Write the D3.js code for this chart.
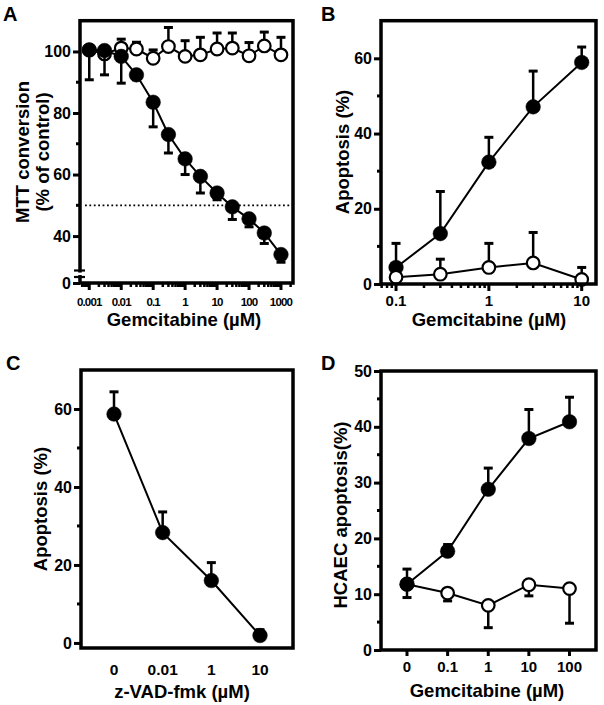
<!DOCTYPE html>
<html><head><meta charset="utf-8">
<script src="https://cdn.jsdelivr.net/npm/d3@7"></script>
<style>
body{margin:0;background:#fff}
svg{display:block}
text{font-family:"Liberation Sans",Arial,sans-serif;font-weight:bold;fill:#000}
</style>
</head><body>
<svg id="chart" width="604" height="705"></svg>
<script>
// ---------- DATA ----------
// Panel A
const aDose = [0.001,0.003,0.01,0.03,0.1,0.3,1,3,10,30,100,300,1000];
const aFilled = [100.5,100.3,98.4,92.4,83.5,73.0,65.1,59.4,54.0,49.5,45.6,41.0,34.0];
const aFilledErr = [9.7,7.9,8.7,1.6,8.0,6.0,5.1,5.4,2.2,4.1,2.6,3.4,2.5];
const aOpen = [100.5,99.2,101.1,100.8,97.8,101.6,98.4,98.9,100.8,101.1,98.6,101.8,98.9];
const aOpenErr = [0,0,2.9,2.2,2.7,6.2,5.1,5.7,5.2,4.9,4.3,4.5,5.7];
const aYTicks = [0,40,60,80,100];
const aYMinor = [50,70,90];
const aXTicks = [0.001,0.01,0.1,1,10,100,1000];
const aXLabels = ["0.001","0.01","0.1","1","10","100","1000"];
const aThreshold = 50;
// Panel B
const bDose = [0.1,0.3,1,3,10];
const bFilled = [4.4,13.4,32.4,47.1,58.9];
const bFilledErr = [6.4,11.2,6.6,9.5,4.1];
const bOpen = [1.8,2.6,4.4,5.6,1.2];
const bOpenErr = [0,4.0,6.4,8.1,3.2];
const bYTicks = [0,20,40,60];
const bYMinor = [10,30,50];
const bXTicks = [0.1,1,10];
const bXLabels = ["0.1","1","10"];
// Panel C
const cLabels = ["0","0.01","1","10"];
const cValues = [58.7,28.3,16.0,1.9];
const cErr = [5.7,5.3,4.6,1.5];
const cYTicks = [0,20,40,60];
const cYMinor = [10,30,50];
// Panel D
const dLabels = ["0","0.1","1","10","100"];
const dFilled = [11.8,17.7,28.8,37.9,40.9];
const dFilledErr = [2.7,1.2,3.8,5.2,4.4];
const dOpen = [11.8,10.2,8.0,11.7,11.0];
const dOpenErr = [2.4,1.4,4.0,2.0,6.2];
const dYTicks = [0,10,20,30,40,50];
const dYMinor = [5,15,25,35,45];

// ---------- DRAWING ----------
const svg = d3.select("#chart");
const FRAME_W = 3.5, LINE_W = 2, R = 7.3;
const TICK_FS = 16, TITLE_FS = 18.5;

function frame(x0,x1,y0,y1){
  svg.append("rect").attr("x",x0).attr("y",y0).attr("width",x1-x0).attr("height",y1-y0)
    .attr("fill","none").attr("stroke","#000").attr("stroke-width",FRAME_W);
}
function yAxis(y, x0, ticks, minor, fs){
  const g = svg.append("g").attr("transform",`translate(${x0},0)`);
  const ax = d3.axisLeft(y).tickValues(ticks).tickSize(7).tickPadding(2).tickFormat(d3.format("d"));
  g.call(ax);
  g.select(".domain").remove();
  g.selectAll(".tick line").attr("stroke","#000").attr("stroke-width",3);
  g.selectAll(".tick text").style("font-size",fs+"px").style("font-family",'"Liberation Sans",Arial,sans-serif').style("font-weight","bold").attr("fill","#000");
  svg.append("g").selectAll("line").data(minor).join("line")
    .attr("x1",x0-4).attr("x2",x0).attr("y1",d=>y(d)).attr("y2",d=>y(d))
    .attr("stroke","#000").attr("stroke-width",3);
}
function xAxisLog(x, y0, ticks, labels, fs, labelY, ls){
  const [lo,hi] = x.domain();
  const minors = [];
  for(let e=Math.floor(Math.log10(lo)); e<=Math.ceil(Math.log10(hi)); e++){
    for(let m=2;m<=9;m++){ const v=m*Math.pow(10,e); if(v>=lo && v<=hi) minors.push(v); }
  }
  svg.append("g").selectAll("line").data(minors).join("line")
    .attr("x1",d=>x(d)).attr("x2",d=>x(d)).attr("y1",y0).attr("y2",y0+4)
    .attr("stroke","#000").attr("stroke-width",2.5);
  svg.append("g").selectAll("line").data(ticks).join("line")
    .attr("x1",d=>x(d)).attr("x2",d=>x(d)).attr("y1",y0).attr("y2",y0+7)
    .attr("stroke","#000").attr("stroke-width",3);
  svg.append("g").selectAll("text").data(ticks).join("text")
    .attr("x",d=>x(d)).attr("y",labelY).attr("text-anchor","middle")
    .style("font-size",fs+"px").style("letter-spacing",(ls||0)+"px").text((d,i)=>labels[i]);
}
function xAxisCat(x, y0, labels, fs, labelY, showTicks){
  if(showTicks){
    svg.append("g").selectAll("line").data(labels).join("line")
      .attr("x1",d=>x(d)).attr("x2",d=>x(d)).attr("y1",y0).attr("y2",y0+6)
      .attr("stroke","#000").attr("stroke-width",3);
  }
  svg.append("g").selectAll("text").data(labels).join("text")
    .attr("x",d=>x(d)).attr("y",labelY).attr("text-anchor","middle")
    .style("font-size",fs+"px").text(d=>d);
}
function series(xs, vals, errs, x, y, filled, dir){
  const pts = xs.map((d,i)=>({x:x(d), v:vals[i], e:errs[i]}));
  const g = svg.append("g");
  pts.forEach(p=>{
    if(!p.e) return;
    const yc = y(p.v), ye = y(p.v + dir*p.e);
    g.append("line").attr("x1",p.x).attr("x2",p.x).attr("y1",yc).attr("y2",ye)
      .attr("stroke","#000").attr("stroke-width",2.5);
    g.append("line").attr("x1",p.x-4.5).attr("x2",p.x+4.5).attr("y1",ye).attr("y2",ye)
      .attr("stroke","#000").attr("stroke-width",3);
  });
  g.append("path").datum(pts)
    .attr("d",d3.line().x(p=>p.x).y(p=>y(p.v)))
    .attr("fill","none").attr("stroke","#000").attr("stroke-width",LINE_W);
  g.selectAll("circle").data(pts).join("circle")
    .attr("cx",p=>p.x).attr("cy",p=>y(p.v))
    .attr("r", filled ? R : R-1)
    .attr("fill", filled ? "#000" : "#fff")
    .attr("stroke","#000").attr("stroke-width", filled ? 0.5 : 2.2);
}
function label(t,x,yb){ svg.append("text").attr("x",x).attr("y",yb).style("font-size","20px").text(t); }
function xTitle(t,cx,yb){ svg.append("text").attr("x",cx).attr("y",yb).attr("text-anchor","middle").style("font-size",TITLE_FS+"px").text(t); }
function yTitle(t,cx,cy,fs){
  svg.append("text").attr("transform",`translate(${cx},${cy}) rotate(-90)`)
    .attr("text-anchor","middle").attr("dominant-baseline","central")
    .style("font-size",(fs||TITLE_FS)+"px").text(t);
}

// ----- Panel A -----
{
  const L=80, Rt=293, T=20.7, B=283;
  const x = d3.scaleLog().domain([Math.pow(10,-3.29), Math.pow(10,3.376)]).range([L,Rt]);
  const y = d3.scaleLinear().domain([0,2,28,110]).range([B,278,273,T]);
  svg.append("line").attr("x1",85).attr("x2",Rt).attr("y1",y(aThreshold)).attr("y2",y(aThreshold))
    .attr("stroke","#000").attr("stroke-width",1.8).attr("stroke-dasharray","1.8,2.6");
  series(aDose, aOpen, aOpenErr, x, y, false, 1);
  series(aDose, aFilled, aFilledErr, x, y, true, -1);
  frame(L,Rt,T,B);
  yAxis(y, L, aYTicks, aYMinor, TICK_FS);
  svg.append("line").attr("x1",L-6).attr("x2",L+5).attr("y1",270.5).attr("y2",270.5).attr("stroke","#000").attr("stroke-width",2.2);
  svg.append("line").attr("x1",L-6).attr("x2",L+5).attr("y1",277).attr("y2",277).attr("stroke","#000").attr("stroke-width",2.2);
  svg.append("line").attr("x1",L-5).attr("x2",L+4).attr("y1",273.8).attr("y2",273.8).attr("stroke","#fff").attr("stroke-width",2.5);
  xAxisLog(x, B, aXTicks, aXLabels, 11.5, 306, -0.8);
  xTitle("Gemcitabine (µM)", 184, 326);
  yTitle("MTT conversion", 22, 152);
  yTitle("(% of control)", 42, 152);
  label("A", 3, 21);
}
// ----- Panel B -----
{
  const L=381, Rt=596, T=20.7, B=284;
  const x = d3.scaleLog().domain([Math.pow(10,-1.162), Math.pow(10,1.154)]).range([L,Rt]);
  const y = d3.scaleLinear().domain([0,70]).range([B,T]);
  series(bDose, bFilled, bFilledErr, x, y, true, 1);
  series(bDose, bOpen, bOpenErr, x, y, false, 1);
  frame(L,Rt,T,B);
  yAxis(y, L, bYTicks, bYMinor, TICK_FS);
  xAxisLog(x, B, bXTicks, bXLabels, 15, 306);
  xTitle("Gemcitabine (µM)", 489, 326);
  yTitle("Apoptosis (%)", 342, 152);
  label("B", 321, 21);
}
// ----- Panel C -----
{
  const L=81, Rt=293, T=370, B=648;
  const x = d3.scalePoint().domain(cLabels).range([114,260]);
  const y = d3.scaleLinear().domain([-1.3,70]).range([B,T]);
  series(cLabels, cValues, cErr, x, y, true, 1);
  frame(L,Rt,T,B);
  yAxis(y, L, cYTicks, cYMinor, TICK_FS);
  xAxisCat(x, B, cLabels, 15.5, 675, false);
  xTitle("z-VAD-fmk (µM)", 182, 698);
  yTitle("Apoptosis (%)", 40, 509);
  label("C", 6, 370);
}
// ----- Panel D -----
{
  const L=381, Rt=596, T=371, B=650;
  const x = d3.scalePoint().domain(dLabels).range([407,569.5]);
  const y = d3.scaleLinear().domain([0,50]).range([B,T]);
  series(dLabels, dOpen, dOpenErr, x, y, false, -1);
  series(dLabels, dFilled, dFilledErr, x, y, true, 1);
  frame(L,Rt,T,B);
  yAxis(y, L, dYTicks, dYMinor, TICK_FS);
  xAxisCat(x, B, dLabels, 15, 672, true);
  xTitle("Gemcitabine (µM)", 487, 697);
  yTitle("HCAEC apoptosis(%)", 340, 515);
  label("D", 321, 370);
}
</script>
</body></html>
